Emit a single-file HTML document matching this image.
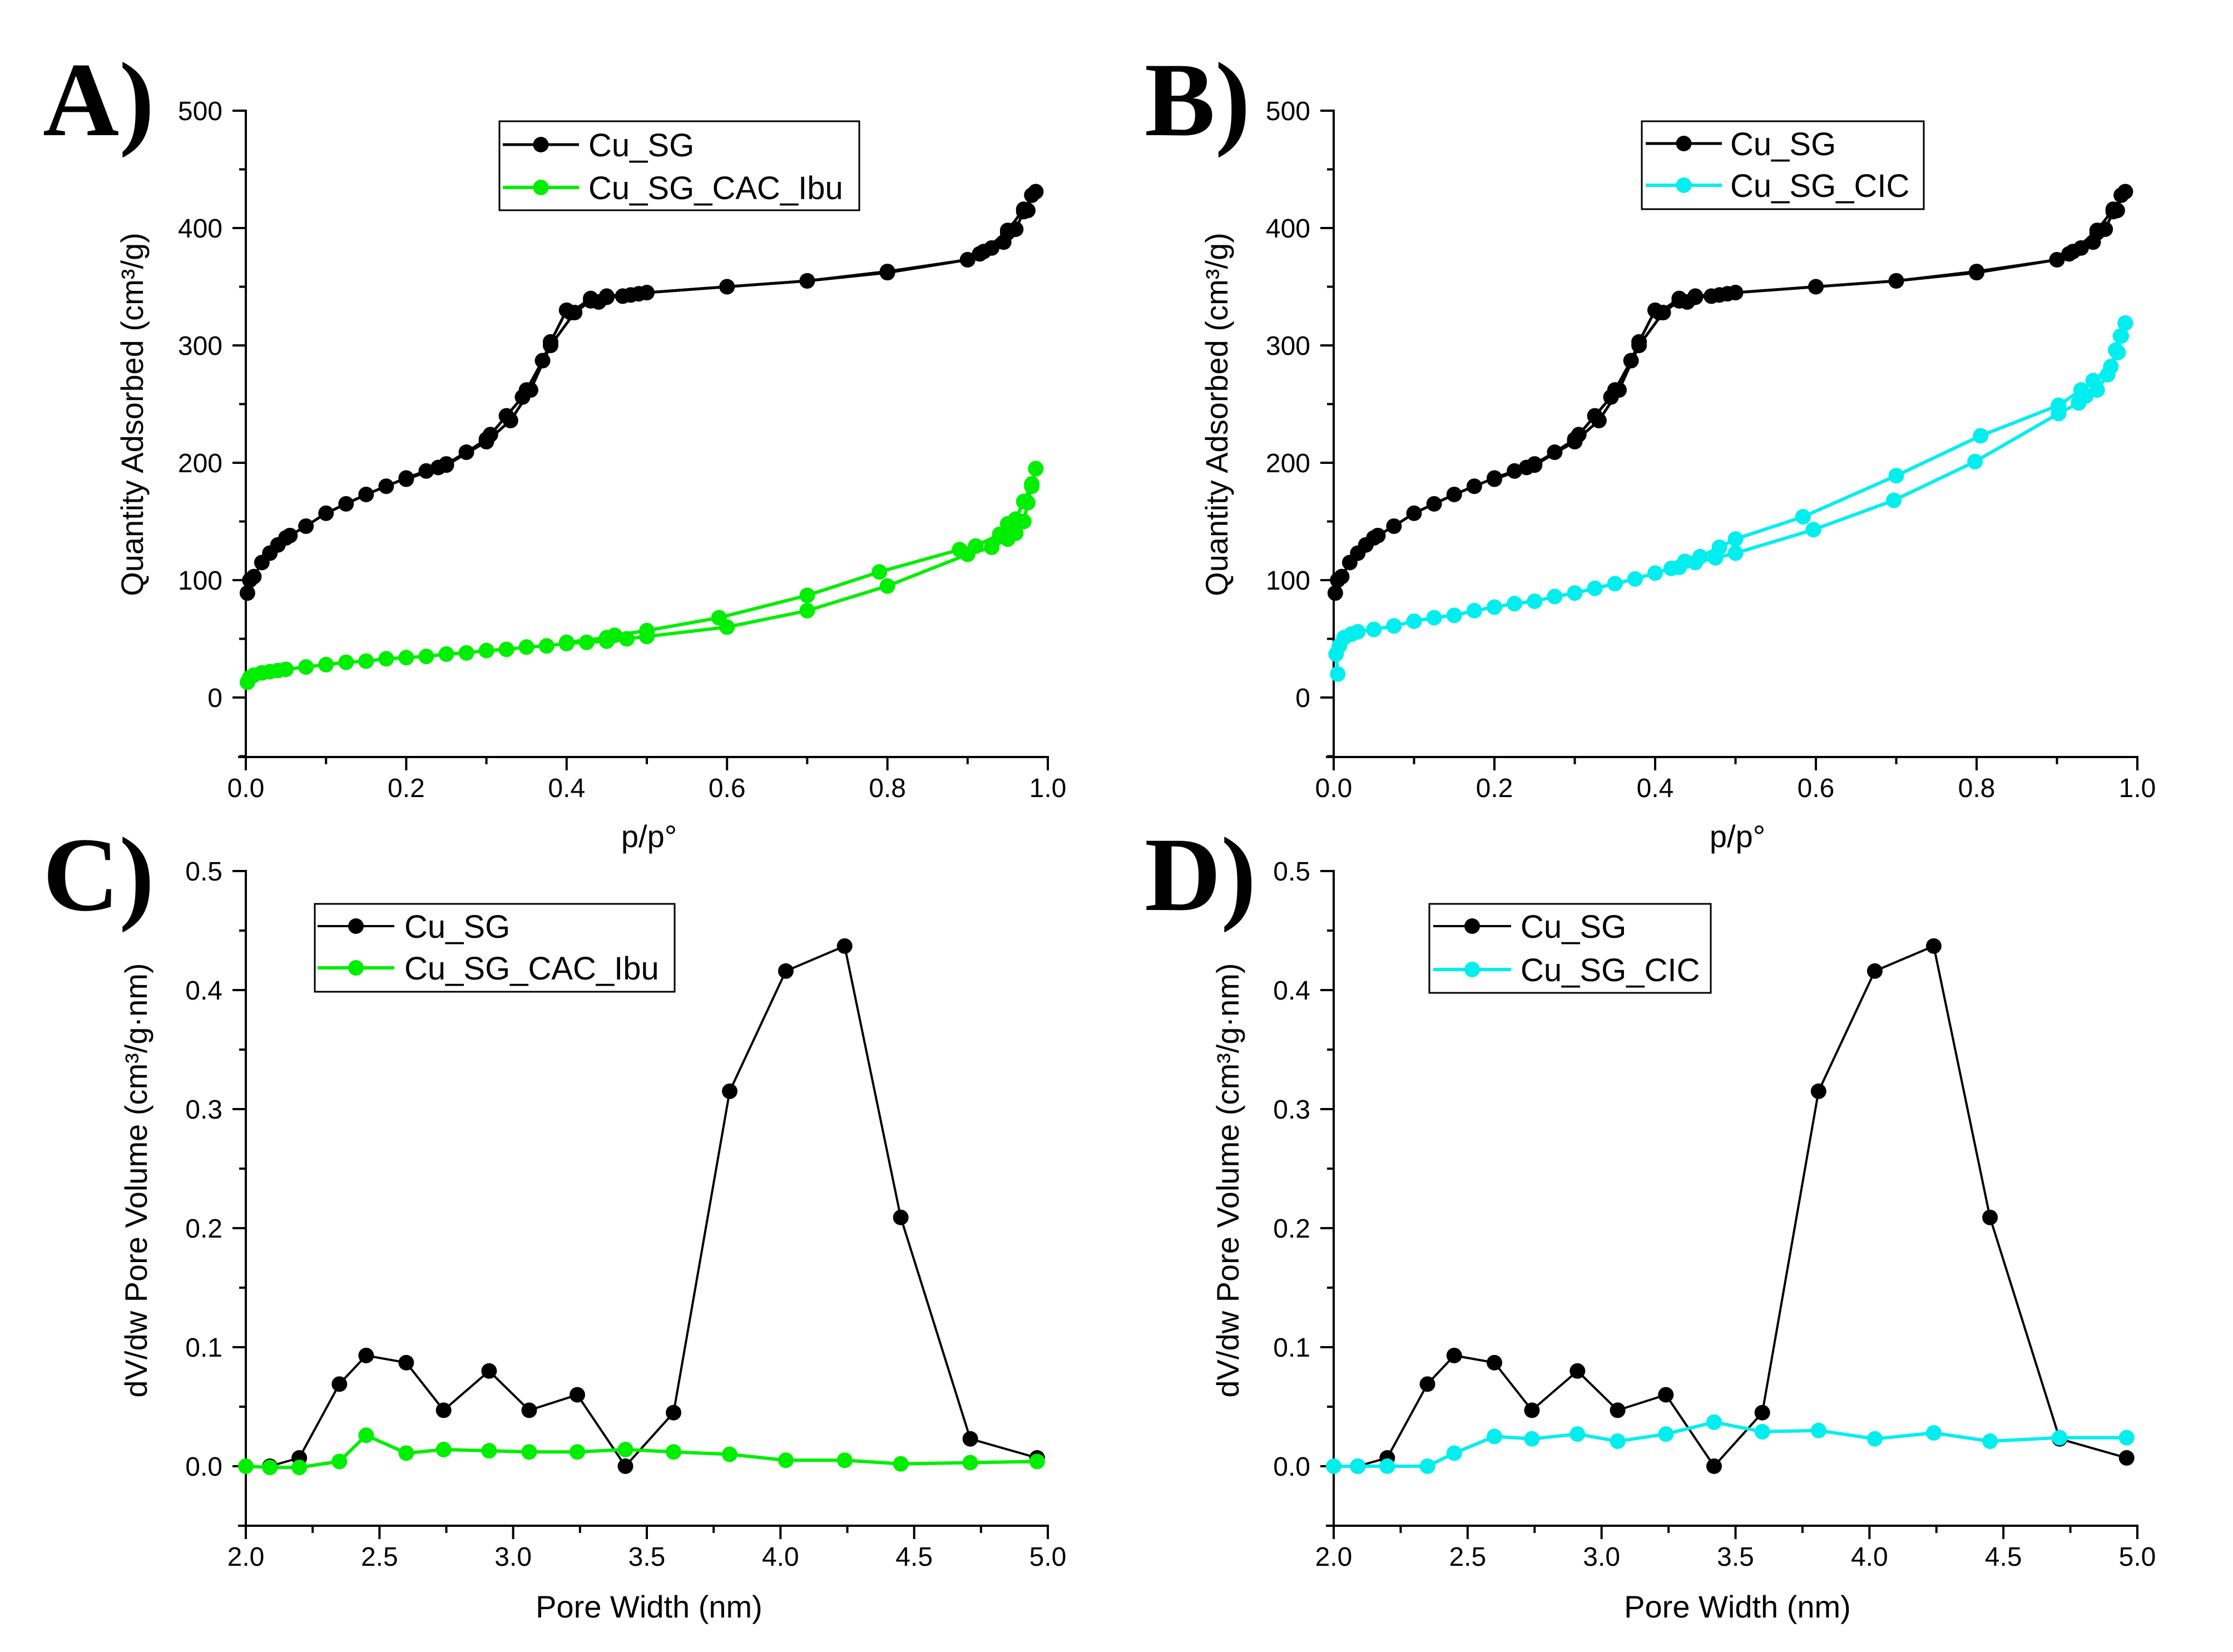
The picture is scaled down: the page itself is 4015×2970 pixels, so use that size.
<!DOCTYPE html>
<html><head><meta charset="utf-8">
<style>
html,body{margin:0;padding:0;background:#fff;}
svg{display:block;}
text{font-family:"Liberation Sans",Arial,sans-serif;fill:#000;}
.lbl{font-family:"Liberation Serif",serif;font-weight:bold;font-size:190px;}
.tick{font-size:48px;}
.title{font-size:56px;}
.leg{font-size:58px;}
</style></head>
<body>
<svg id="fig" width="4015" height="2970" viewBox="0 0 4015 2970" xmlns="http://www.w3.org/2000/svg">
<text class="lbl" x="77" y="243">A)</text>
<text class="lbl" x="2058" y="243">B)</text>
<text class="lbl" x="77" y="1636">C)</text>
<text class="lbl" x="2058" y="1636">D)</text>
</svg>
<script>
// ---- Panel A/B data: isotherms (p/p0, quantity adsorbed) ----
const sgAdsP = [0.002,0.005,0.01,0.02,0.03,0.04,0.05,0.055,0.075,0.1,0.125,0.15,0.175,0.2,0.225,0.24,0.25,0.275,0.3,0.305,0.325,0.345,0.35,0.37,0.38,0.4,0.405,0.43,0.44,0.45,0.47,0.48,0.49,0.5,0.6,0.7,0.8,0.9,0.915,0.93,0.945,0.95,0.96,0.97,0.975,0.98,0.985];
const sgAdsV = [89,100,103,115,123,130,136,138,146,157,165,173,180,187,193,196,199,209,220,224,240,256,262,287,303,330,328,340,337,341,342,343,344,345,350,355,362,373,378,383,388,396,399,414,415,428,431];
const sgDesP = [0.985,0.97,0.95,0.92,0.9,0.8,0.7,0.6,0.5,0.45,0.43,0.41,0.38,0.355,0.33,0.3,0.25,0.2];
const sgDesV = [431,416,398,380,373,363,355,350,345,342,338,328,300,262,236,218,198,186];

const ibuAdsP = [0.002,0.005,0.01,0.02,0.03,0.04,0.05,0.075,0.1,0.125,0.15,0.175,0.2,0.225,0.25,0.275,0.3,0.325,0.35,0.375,0.4,0.425,0.45,0.475,0.5,0.6,0.7,0.8,0.9,0.93,0.95,0.96,0.97,0.975,0.98,0.985];
const ibuAdsV = [13,17,19,21,22,23,24,26,28,30,31,33,34,35,37,38,40,41,43,44,46,47,48,50,52,60,74,95,122,128,135,140,150,166,180,195];
const ibuDesP = [0.985,0.98,0.97,0.96,0.95,0.94,0.91,0.89,0.79,0.7,0.59,0.5,0.46,0.45,0.4];
const ibuDesV = [195,182,167,152,148,139,129,126,107,87,68,57,53,51,47];

const cicAdsP = [0.005,0.003,0.007,0.013,0.022,0.03,0.05,0.075,0.1,0.125,0.15,0.175,0.2,0.225,0.25,0.275,0.3,0.325,0.35,0.375,0.4,0.42,0.43,0.45,0.475,0.5,0.597,0.697,0.798,0.902,0.927,0.936,0.95,0.963,0.976,0.98,0.985];
const cicAdsV = [20,37,44,51,54,56,58,61,65,68,70,74,77,80,82,86,89,93,97,101,106,110,111,115,119,123,143,168,201,242,251,257,262,275,294,308,319];
const cicDesP = [0.985,0.979,0.973,0.967,0.945,0.93,0.902,0.805,0.7,0.584,0.5,0.48,0.456,0.437];
const cicDesV = [319,308,296,282,270,262,249,223,189,154,135,128,120,116];

// ---- Panel C/D data: pore size distribution ----
const sgW = [2.09,2.2,2.35,2.45,2.6,2.74,2.91,3.06,3.24,3.42,3.6,3.81,4.02,4.24,4.45,4.71,4.96];
const sgD = [0,0.007,0.069,0.093,0.087,0.047,0.080,0.047,0.060,0,0.045,0.315,0.416,0.437,0.209,0.023,0.007];
const ibuW = [2.0,2.09,2.2,2.35,2.45,2.6,2.74,2.91,3.06,3.24,3.42,3.6,3.81,4.02,4.24,4.45,4.71,4.96];
const ibuD = [0,-0.001,-0.001,0.004,0.026,0.011,0.014,0.013,0.012,0.012,0.014,0.012,0.010,0.005,0.005,0.002,0.003,0.004];
const cicW = [2.0,2.09,2.2,2.35,2.45,2.6,2.74,2.91,3.06,3.24,3.42,3.6,3.81,4.02,4.24,4.45,4.71,4.96];
const cicD = [0,0,0,0,0.011,0.025,0.023,0.027,0.021,0.027,0.037,0.029,0.030,0.023,0.028,0.021,0.024,0.024];

const isoYTicks = ['0','100','200','300','400','500'];
const isoXTicks = ['0.0','0.2','0.4','0.6','0.8','1.0'];
const psdYTicks = ['0.0','0.1','0.2','0.3','0.4','0.5'];
const psdXTicks = ['2.0','2.5','3.0','3.5','4.0','4.5','5.0'];

const NS = 'http://www.w3.org/2000/svg';
const svg = document.getElementById('fig');
const MR = 14;
function mk(tag, attrs, parent){
  const e = document.createElementNS(NS, tag);
  for (const k in attrs) e.setAttribute(k, attrs[k]);
  (parent||svg).appendChild(e);
  return e;
}

function panel(cfg){
  const g = mk('g', {});
  
  
  const sx = v => cfg.x0 + (v - cfg.xmin)/(cfg.xmax - cfg.xmin)*(cfg.x1 - cfg.x0);
  const sy = v => cfg.y0 - (v - cfg.ymin)/(cfg.ymax - cfg.ymin)*(cfg.y0 - cfg.y1);
  const yb = cfg.yb;
  const ax = mk('path', {d:`M${cfg.x0} ${cfg.y1-2} L${cfg.x0} ${yb} M${cfg.x0-14} ${yb} L${cfg.x1+2} ${yb}`, stroke:'#000','stroke-width':4, fill:'none'}, g);
  
  
  cfg.yTicks.forEach((t,i)=>{
    const v = parseFloat(t);
    const y = sy(v);
    mk('line',{x1:cfg.x0-24,x2:cfg.x0,y1:y,y2:y,stroke:'#000','stroke-width':4},g);
    const tx = mk('text',{x:cfg.x0-42,y:y+17,'text-anchor':'end',class:'tick'},g);
    tx.textContent = t;
    
    
    if (i < cfg.yTicks.length-1) { const ym = sy(v + cfg.yMinor); mk('line',{x1:cfg.x0-12,x2:cfg.x0,y1:ym,y2:ym,stroke:'#000','stroke-width':4},g); }
  });
  { const ym = sy(parseFloat(cfg.yTicks[0]) - cfg.yMinor); mk('line',{x1:cfg.x0-12,x2:cfg.x0,y1:ym,y2:ym,stroke:'#000','stroke-width':4},g); }
  cfg.xTicks.forEach((t,i)=>{
    const v = parseFloat(t);
    const x = sx(v);
    mk('line',{x1:x,x2:x,y1:yb,y2:yb+24,stroke:'#000','stroke-width':4},g);
    const tx = mk('text',{x:x,y:yb+72,'text-anchor':'middle',class:'tick'},g);
    tx.textContent = t;
    
    
    if (i < cfg.xTicks.length-1) { const xm = sx(v + cfg.xMinor); mk('line',{x1:xm,x2:xm,y1:yb,y2:yb+13,stroke:'#000','stroke-width':4},g); }
  });
  const yt = mk('text',{x:cfg.ytx,y:cfg.yty,'text-anchor':'middle',class:'title',transform:`rotate(-90 ${cfg.ytx} ${cfg.yty})`,dy:'20'},g);
  yt.textContent = cfg.ytitle;
  
  
  const xt = mk('text',{x:cfg.xtx,y:cfg.xty,'text-anchor':'middle',class:'title','font-size':cfg.xtSize||56},g);
  xt.textContent = cfg.xtitle;
  
  
  cfg.series.forEach(s=>{
    s.parts.forEach(([xs,ys])=>{
      const d = xs.map((x,i)=>(i?'L':'M')+sx(x).toFixed(1)+' '+sy(ys[i]).toFixed(1)).join(' ');
      const p = mk('path',{d:d,stroke:s.color,'stroke-width':s.w,fill:'none','stroke-linejoin':'round'},g);
      
      
      xs.forEach((x,i)=>{
        const c = mk('circle',{cx:sx(x),cy:sy(ys[i]),r:MR,fill:s.color},g);
        
        
      });
    });
  });
  const L = cfg.legend;
  const lg = mk('g',{},g);
  
  
  mk('rect',{x:L.x,y:L.y,width:L.w,height:L.h,fill:'#fff',stroke:'#000','stroke-width':3},lg);
  cfg.series.forEach((s,i)=>{
    const ry = L.rows[i];
    const e = mk('g',{},lg);
    
    
    mk('line',{x1:L.lx0,x2:L.lx1,y1:ry,y2:ry,stroke:s.color,'stroke-width':s.w},e);
    mk('circle',{cx:(L.lx0+L.lx1)/2,cy:ry,r:MR,fill:s.color},e);
    const t = mk('text',{x:L.tx,y:ry+21,class:'leg'},e);
    t.textContent = s.label;
  });
}

const isoBase = {xmin:0,xmax:1,ymin:0,ymax:500,y0:1254,y1:199,yb:1361,xTicks:isoXTicks,yTicks:isoYTicks,xMinor:0.1,yMinor:50,
  ytitle:'Quantity Adsorbed (cm³/g)', xtitle:'p/p°', yty:745, xty:1523};
const psdBase = {xmin:2,xmax:5,ymin:0,ymax:0.5,y0:2636,y1:1566,yb:2743,xTicks:psdXTicks,yTicks:psdYTicks,xMinor:0.25,yMinor:0.05,
  ytitle:'dV/dw Pore Volume (cm³/g·nm)', xtitle:'Pore Width (nm)', yty:2122, xty:2908, xtSize:58};

panel(Object.assign({},isoBase,{name:'panel-a',x0:442,x1:1884,ytx:237,xtx:1167,
  series:[{key:'cu-sg',label:'Cu_SG',color:'#000',w:5,parts:[[sgAdsP,sgAdsV],[sgDesP,sgDesV]]},
          {key:'cu-sg-cac-ibu',label:'Cu_SG_CAC_Ibu',color:'#00ee00',w:6,parts:[[ibuAdsP,ibuAdsV],[ibuDesP,ibuDesV]]}],
  legend:{x:898,y:218,w:647,h:160,rows:[260,337],lx0:904,lx1:1041,tx:1058}}));
panel(Object.assign({},isoBase,{name:'panel-b',x0:2398,x1:3843,ytx:2187,xtx:3124,
  series:[{key:'cu-sg',label:'Cu_SG',color:'#000',w:5,parts:[[sgAdsP,sgAdsV],[sgDesP,sgDesV]]},
          {key:'cu-sg-cic',label:'Cu_SG_CIC',color:'#00eeee',w:6,parts:[[cicAdsP,cicAdsV],[cicDesP,cicDesV]]}],
  legend:{x:2952,y:218,w:507,h:158,rows:[258,333],lx0:2959,lx1:3096,tx:3111}}));
panel(Object.assign({},psdBase,{name:'panel-c',x0:442,x1:1884,ytx:244,xtx:1167,
  series:[{key:'cu-sg',label:'Cu_SG',color:'#000',w:4,parts:[[sgW,sgD]]},
          {key:'cu-sg-cac-ibu',label:'Cu_SG_CAC_Ibu',color:'#00ee00',w:6,parts:[[ibuW,ibuD]]}],
  legend:{x:566,y:1625,w:647,h:158,rows:[1665,1740],lx0:571,lx1:709,tx:727}}));
panel(Object.assign({},psdBase,{name:'panel-d',x0:2398,x1:3843,ytx:2207,xtx:3124,
  series:[{key:'cu-sg',label:'Cu_SG',color:'#000',w:4,parts:[[sgW,sgD]]},
          {key:'cu-sg-cic',label:'Cu_SG_CIC',color:'#00eeee',w:6,parts:[[cicW,cicD]]}],
  legend:{x:2570,y:1625,w:506,h:160,rows:[1665,1743],lx0:2577,lx1:2717,tx:2734}}));
</script>
</body></html>
